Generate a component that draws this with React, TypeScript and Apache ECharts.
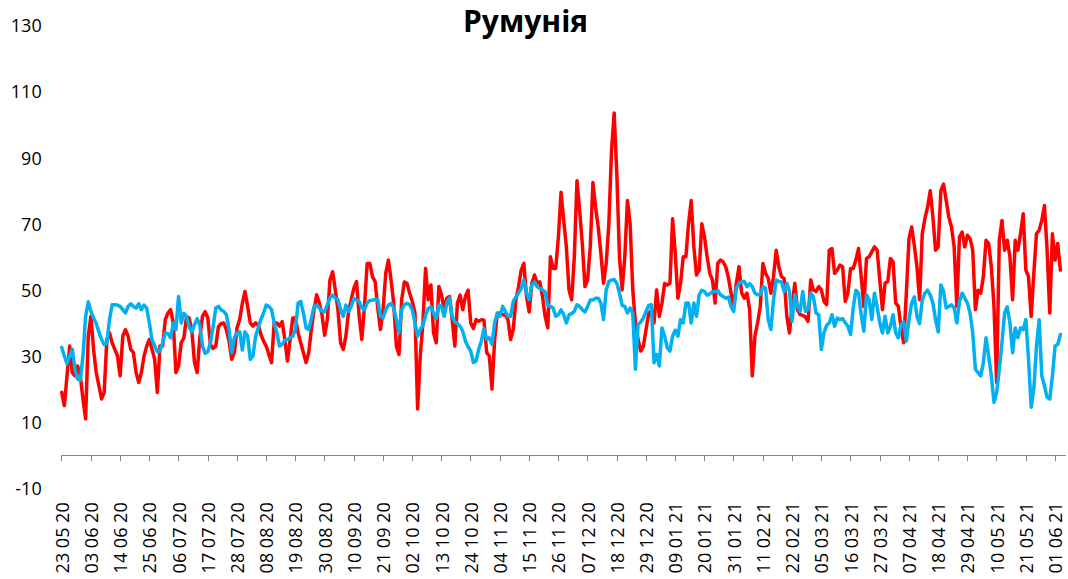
import React, { useEffect, useRef } from "react";
import * as echarts from "echarts";

const startDate = "2020-05-23";
const dayCount = 379;

const redValues: number[] = [
  19, 15, 24, 33, 25, 24, 27, 24, 17, 11,
  36, 42, 32, 25, 21, 17, 19, 35, 37, 34,
  32, 30, 24, 36, 38, 36, 32, 31, 25, 22,
  25, 30, 33, 35, 32, 29, 19, 33, 33, 41,
  43, 44, 40, 25, 27, 34, 35.5, 41.8, 41.5, 37.5,
  28, 25, 35.5, 42, 43.4, 41.5, 33.5, 32.3, 33, 38.8,
  39.8, 40, 38, 34.5, 29, 31, 38.5, 41, 45.9, 49.5,
  45, 40, 39, 40, 39.3, 36.5, 34.5, 33, 30.5, 28,
  40, 40, 39, 40.4, 35, 28.5, 35, 41.5, 41.5, 37,
  34, 31, 28, 31, 38, 44, 48.5, 46, 42.5, 36.3,
  41, 53, 55.5, 50, 44, 34, 32, 36, 43.5, 47,
  50.5, 52.5, 42, 35, 45, 58, 58, 54, 52.5, 44.5,
  38, 44, 55, 59, 53, 46, 33, 30.5, 47, 52.4,
  52, 49, 46.5, 43, 14, 30, 40, 56.5, 47, 51.5,
  37, 34, 51, 48.5, 44, 47.5, 48, 41, 33, 46,
  48.4, 44, 48, 49.9, 40, 38.3, 41, 40.5, 41, 40.8,
  31, 30, 20, 35, 42.9, 43, 42.5, 42.5, 41, 35,
  38, 46.9, 51, 56, 58, 48, 43.3, 52, 54.5, 52,
  52.4, 48, 42, 38.5, 60, 56.5, 56.5, 66, 79.5, 71,
  63, 50, 47, 60, 83, 74, 64, 51, 53, 63,
  82.5, 75, 69, 61, 52, 58, 70, 92, 103.5, 85,
  60, 50, 60, 77, 70, 50, 40, 35, 31.5, 33,
  38, 42.8, 43.8, 40, 50, 42, 46, 51.9, 51.5, 52,
  71.5, 61, 47.5, 52, 60, 60, 70, 77, 63, 54.5,
  56, 70, 66, 60, 55, 53, 46, 58, 59, 58.5,
  57, 53.8, 49, 45, 52, 57, 49, 47.5, 49, 44,
  24, 36, 40, 45, 58, 55, 53.5, 49, 54, 62,
  57, 54, 53.4, 42, 37, 45, 52, 44, 42.5, 42.3,
  41.8, 40.5, 53, 50, 49.5, 51, 50, 46.5, 45.5, 62,
  62.5, 55, 56, 57.5, 57, 46.5, 49, 56.5, 56.5, 59,
  62.5, 54, 45, 59.5, 60, 61.5, 63, 62, 53, 44,
  52, 52.5, 59.5, 58.5, 46, 45, 38.5, 34, 49, 65.5,
  69, 63.5, 57, 47, 67, 71.6, 75, 80, 72, 62,
  63, 80, 82, 77, 72, 69, 63, 45, 66, 67.5,
  63, 66.5, 65.5, 62, 44, 49.9, 49, 54, 65, 64,
  57, 45, 22, 65, 71, 62, 65, 60, 47, 65,
  62, 67, 73, 56, 54, 42, 55, 67, 68, 71,
  75.5, 62, 43, 67, 59, 64, 56,
];

const blueValues: number[] = [
  32.6, 30, 27.7, 30, 32, 26, 23, 22.7, 30, 42,
  46.4, 43.5, 41.5, 39.8, 37.3, 35, 33.5, 34, 41, 45.5,
  45.5, 45.4, 45, 44, 43, 45, 45.8, 45, 44.5, 45.8,
  44, 45.4, 44.5, 40, 35, 33, 31.3, 31.5, 34, 37,
  36.8, 35.5, 40, 38, 48, 40, 42.9, 42, 38.8, 37.3,
  39.5, 41.3, 39.3, 33, 30.8, 31.3, 34, 38.8, 44.5, 45,
  44, 43.5, 42.5, 38, 31, 35.5, 37, 37.3, 31.8, 37.3,
  36, 29, 30, 36, 38.5, 41, 43, 45.4, 45, 44,
  40, 37, 33, 33.5, 34.8, 35, 35.5, 36, 38, 46,
  46.5, 43, 38.5, 38, 41.3, 44.9, 45.4, 44.5, 43.5, 43.4,
  45.5, 47.5, 48.4, 47.5, 47, 44, 42, 45.4, 43.5, 45,
  47.4, 46.9, 46.5, 44.5, 44, 46, 46.8, 46.9, 47.1, 47,
  42, 41.5, 44, 45.4, 45.9, 44.5, 41, 37, 44, 45.5,
  45.9, 45.5, 43.9, 40, 36, 38, 39.3, 42.3, 44.4, 44.9,
  43, 41.3, 45.4, 45, 42, 46, 47.5, 42, 40.3, 39.8,
  39, 37.5, 34.5, 32.8, 31.5, 28, 28.5, 32, 34.5, 38.3,
  35, 35.5, 33.5, 40, 42.9, 42, 45, 43.5, 42, 42,
  46.5, 47.8, 49, 50.4, 53, 49, 47, 51.5, 52.4, 51,
  50.4, 50, 49.4, 45.3, 45, 44.5, 42, 42.5, 44, 42.5,
  40, 42.5, 42.8, 43.5, 45.5, 45, 44, 43.3, 45, 46.9,
  46.9, 47.5, 47.5, 46, 41, 50, 52.5, 53, 53.1, 52,
  49, 45.3, 45, 43, 44.5, 43, 26, 39.5, 40.3, 41.5,
  43.5, 45.3, 45.5, 28, 30.5, 27, 38.5, 36, 32.5, 31.5,
  36, 37.8, 36, 41, 40, 46, 46, 40, 46, 42,
  48.5, 49.9, 49.5, 48.4, 48.8, 49.4, 49.4, 49.8, 48.5, 48,
  47.5, 47.8, 45, 43.5, 50.5, 51.9, 52.5, 52.5, 51, 51.9,
  51, 49, 48.5, 48.6, 51, 50.5, 41, 38, 47, 53,
  52.5, 52.4, 49.5, 52, 49.5, 40.5, 48.5, 45, 43.5, 49.5,
  43.5, 44, 49, 48, 43, 42.5, 32, 37, 39.3, 40,
  42.5, 39, 41.5, 41, 41.3, 40, 39, 36.5, 44.5, 49.9,
  49, 42.5, 37.5, 48.5, 47, 41, 49, 45, 40, 37,
  42, 37, 39, 42.5, 37, 35.5, 39.5, 40.3, 34.5, 41,
  46, 47.9, 42, 39.8, 47, 49, 49.9, 48.4, 46, 41,
  37.3, 51.5, 49.5, 44.5, 45, 45.5, 44.5, 40, 46.5, 49,
  47.5, 46, 43, 37, 26, 25, 24, 28, 35.5, 30,
  24, 16, 19, 26, 34, 43, 44.9, 40, 31, 38.5,
  35.5, 38.5, 38, 41, 29, 14.5, 20, 33, 41, 24,
  21, 17.5, 17, 24, 33, 33.5, 36.5,
];

const yTickLabels: number[] = [-10, 10, 30, 50, 70, 90, 110, 130];

function buildCategories(): string[] {
  const out: string[] = [];
  const [y, m, d] = startDate.split("-").map(Number);
  const base = Date.UTC(y, m - 1, d);
  for (let i = 0; i < dayCount; i++) {
    const dt = new Date(base + i * 86400000);
    const dd = String(dt.getUTCDate()).padStart(2, "0");
    const mm = String(dt.getUTCMonth() + 1).padStart(2, "0");
    const yy = String(dt.getUTCFullYear() % 100).padStart(2, "0");
    out.push(`${dd} ${mm} ${yy}`);
  }
  return out;
}

const categories = buildCategories();

export default function App() {
  const ref = useRef<HTMLDivElement>(null);
  useEffect(() => {
    document.body.style.margin = "0";
    if (!ref.current) return;
    const chart = echarts.init(ref.current, undefined, { renderer: "svg" });
    const font = "'Open Sans', 'Noto Sans', sans-serif";
    chart.setOption({
      animation: false,
      backgroundColor: "#ffffff",
      title: {
        text: "Румунія",
        left: 458,
        top: 0,
        textStyle: { fontSize: 30, fontWeight: "bold", fontFamily: font, color: "#000" },
      },
      grid: {
        left: 61.7,
        right: 2.3,
        top: 25.3,
        bottom: 90.7,
        containLabel: false,
        outerBoundsMode: "none",
      },
      xAxis: {
        type: "category",
        data: categories,
        boundaryGap: false,
        axisLine: { show: true, onZero: true, lineStyle: { color: "#868686", width: 1 } },
        axisTick: { show: true, interval: 10, length: 6, inside: false, lineStyle: { color: "#868686" } },
        axisLabel: {
          interval: 10,
          rotate: 90,
          margin: 14,
          fontSize: 18,
          fontFamily: font,
          color: "#000",
        },
        splitLine: { show: false },
      },
      yAxis: {
        type: "value",
        min: -10,
        max: 130,
        interval: 10,
        axisLine: { show: false },
        axisTick: { show: false },
        splitLine: { show: false },
        axisLabel: {
          margin: 20,
          fontSize: 18,
          fontFamily: font,
          color: "#000",
          formatter: (v: number) => (yTickLabels.includes(v) ? String(v) : ""),
        },
      },
      series: [
        {
          name: "Ряд 1",
          type: "line",
          data: redValues,
          showSymbol: false,
          symbol: "none",
          lineStyle: { color: "#FF0000", width: 3.5, join: "round", cap: "round" },
          itemStyle: { color: "#FF0000" },
        },
        {
          name: "Ряд 2",
          type: "line",
          data: blueValues,
          showSymbol: false,
          symbol: "none",
          lineStyle: { color: "#00B0F0", width: 3.5, join: "round", cap: "round" },
          itemStyle: { color: "#00B0F0" },
        },
      ],
    });
    return () => chart.dispose();
  }, []);
  return (
    <div
      ref={ref}
      style={{ position: "absolute", left: 0, top: 0, width: 1068, height: 579 }}
    />
  );
}
